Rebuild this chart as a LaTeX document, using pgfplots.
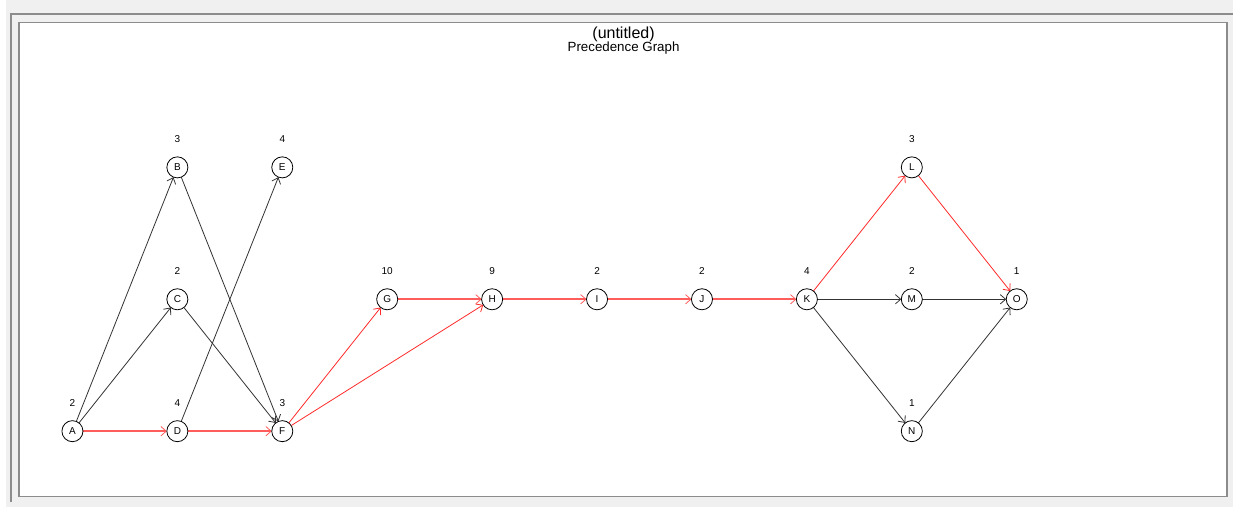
\documentclass[border=0pt]{standalone}
\usepackage{pgfplots}
\pgfplotsset{compat=1.18}
\usepackage{pgfplotstable}
\usepackage{fontspec}
\setmainfont{Liberation Sans}
\usetikzlibrary{arrows.meta}

\definecolor{panelbg}{HTML}{F0F0F0}
\definecolor{framegray}{HTML}{8C8C8C}
\definecolor{edgered}{HTML}{FF2A2A}
\definecolor{flatred}{HTML}{FF5C5C}
\definecolor{edgeblack}{HTML}{333333}

% node centres in pixel units (y measured upwards)
\pgfplotstableread{
x      y      name  w
72.5   75.5   A     2
177.5  339.5  B     3
177.5  207.5  C     2
177.5  75.5   D     4
282.5  339.5  E     4
282.5  75.5   F     3
387.5  207.5  G     10
492.5  207.5  H     9
597.5  207.5  I     2
702.5  207.5  J     2
807.5  207.5  K     4
912.5  339.5  L     3
912.5  207.5  M     2
912.5  75.5   N     1
1017.5 207.5  O     1
}\nodestab

\begin{document}
\begin{tikzpicture}
\begin{axis}[
    width=925.5pt, height=380.25pt,
    scale only axis,
    xmin=0, xmax=1234,
    ymin=0, ymax=507,
    hide axis,
    clip=false,
    arc/.style={line width=0.6pt, shorten <=7.9pt, shorten >=7.9pt,
        -{Straight Barb[length=4pt,width=7pt,line width=0.6pt]}},
    redarc/.style={arc, draw=edgered, color=edgered},
    blackarc/.style={arc, draw=edgeblack, color=edgeblack},
    flat/.style={line width=1.5pt, draw=flatred, color=flatred},
]
% window frame
\fill[panelbg] (axis cs:0,0) rectangle (axis cs:1234,507);
\fill[white] (axis cs:0,0) rectangle (axis cs:6,507);
\fill[panelbg] (axis cs:6,0) rectangle (axis cs:1234,507);
\draw[framegray, line width=1.4pt] (axis cs:10.8,5) -- (axis cs:10.8,493.2) -- (axis cs:1234,493.2);
\fill[white] (axis cs:19,10) rectangle (axis cs:1228,484.5);
\draw[framegray, line width=1.2pt] (axis cs:19,10) rectangle (axis cs:1228,484.5);

\node[font=\fontsize{12}{14}\selectfont] at (axis cs:624,473) {(untitled)};
\node[font=\fontsize{10}{12}\selectfont] at (axis cs:624,459) {Precedence Graph};

% black edges
\addplot[blackarc] coordinates {(72.5,75.5)(177.5,339.5)};
\addplot[blackarc] coordinates {(72.5,75.5)(177.5,207.5)};
\addplot[blackarc] coordinates {(177.5,75.5)(282.5,339.5)};
\addplot[blackarc] coordinates {(177.5,339.5)(282.5,75.5)};
\addplot[blackarc] coordinates {(177.5,207.5)(282.5,75.5)};
\addplot[blackarc, line width=1pt] coordinates {(807.5,207.5)(912.5,207.5)};
\addplot[blackarc, line width=1pt] coordinates {(912.5,207.5)(1017.5,207.5)};
\addplot[blackarc] coordinates {(807.5,207.5)(912.5,75.5)};
\addplot[blackarc] coordinates {(912.5,75.5)(1017.5,207.5)};

% red edges (critical path)
\addplot[redarc, flat] coordinates {(72.5,75.5)(177.5,75.5)};
\addplot[redarc, flat] coordinates {(177.5,75.5)(282.5,75.5)};
\addplot[redarc] coordinates {(282.5,75.5)(387.5,207.5)};
\addplot[redarc] coordinates {(282.5,75.5)(492.5,207.5)};
\addplot[redarc, flat] coordinates {(387.5,207.5)(492.5,207.5)};
\addplot[redarc, flat] coordinates {(492.5,207.5)(597.5,207.5)};
\addplot[redarc, flat] coordinates {(597.5,207.5)(702.5,207.5)};
\addplot[redarc, flat] coordinates {(702.5,207.5)(807.5,207.5)};
\addplot[redarc] coordinates {(807.5,207.5)(912.5,339.5)};
\addplot[redarc] coordinates {(912.5,339.5)(1017.5,207.5)};

% nodes
\addplot[only marks, mark=*, mark size=7.9pt,
    mark options={draw=black, fill=white, line width=0.6pt},
    nodes near coords, point meta=explicit symbolic,
    every node near coord/.style={anchor=center, inner sep=0pt,
        font=\fontsize{7.5}{9}\selectfont}]
    table[x=x, y=y, meta=name] {\nodestab};

% weights
\addplot[draw=none, mark=none,
    nodes near coords, point meta=explicit symbolic,
    every node near coord/.style={anchor=center, inner sep=0pt, yshift=21pt,
        font=\fontsize{7.5}{9}\selectfont}]
    table[x=x, y=y, meta=w] {\nodestab};
\end{axis}
\end{tikzpicture}
\end{document}
